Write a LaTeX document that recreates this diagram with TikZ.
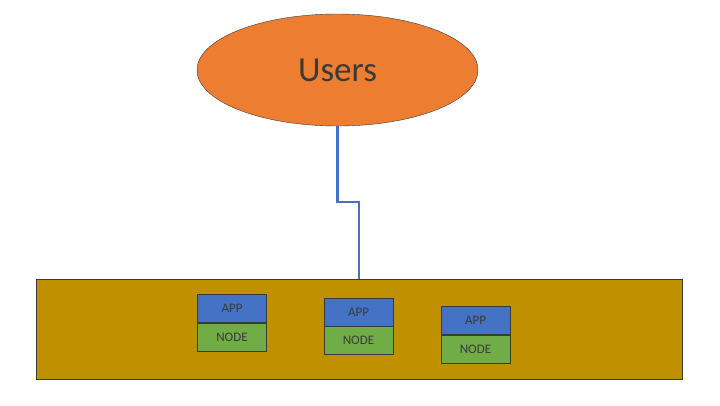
\documentclass[tikz,border=0pt]{standalone}
\usepackage{fontspec}
\setmainfont{Carlito}
\usetikzlibrary{shapes.geometric}
\definecolor{usersorange}{HTML}{ED7D31}
\definecolor{servergold}{HTML}{BF9000}
\definecolor{appblue}{HTML}{4472C4}
\definecolor{nodegreen}{HTML}{70AD47}
\definecolor{textgrey}{HTML}{3A3A3A}
\begin{document}
\begin{tikzpicture}[x=1pt, y=-1pt]
	\tikzstyle{app} = [rectangle,draw=textgrey,line width=1pt,fill=appblue,text=textgrey,minimum width=69pt,minimum height=28pt,inner sep=0pt,font=\fontsize{13}{13}\selectfont]
	\tikzstyle{pod} = [rectangle,draw=textgrey,line width=1pt,fill=nodegreen,text=textgrey,minimum width=69pt,minimum height=28pt,inner sep=0pt,font=\fontsize{13}{13}\selectfont]
	\useasboundingbox (0,0) rectangle (720,405);
	\node[ellipse,draw=textgrey,fill=usersorange,text=textgrey,minimum width=281pt,minimum height=112pt,inner sep=0pt,font=\fontsize{35}{35}\selectfont](users)at(337.5,70){Users};
	\node[rectangle,draw=textgrey,line width=1pt,fill=servergold,minimum width=646pt,minimum height=100pt,inner sep=0pt](server)at(359,329){};
	\node[app](app1)at(232,308.5){APP};
	\node[pod](node1)at(232,337){NODE};
	\node[app](app2)at(358.5,312){APP};
	\node[pod](node2)at(358.5,340.5){NODE};
	\node[app](app3)at(475.5,320.5){APP};
	\node[pod](node3)at(475.5,349.5){NODE};
	\coordinate (bend) at (348,202);
	\draw[appblue,line width=2.5pt] (users.south) |- (bend) -| (server.north);
\end{tikzpicture}
\end{document}
